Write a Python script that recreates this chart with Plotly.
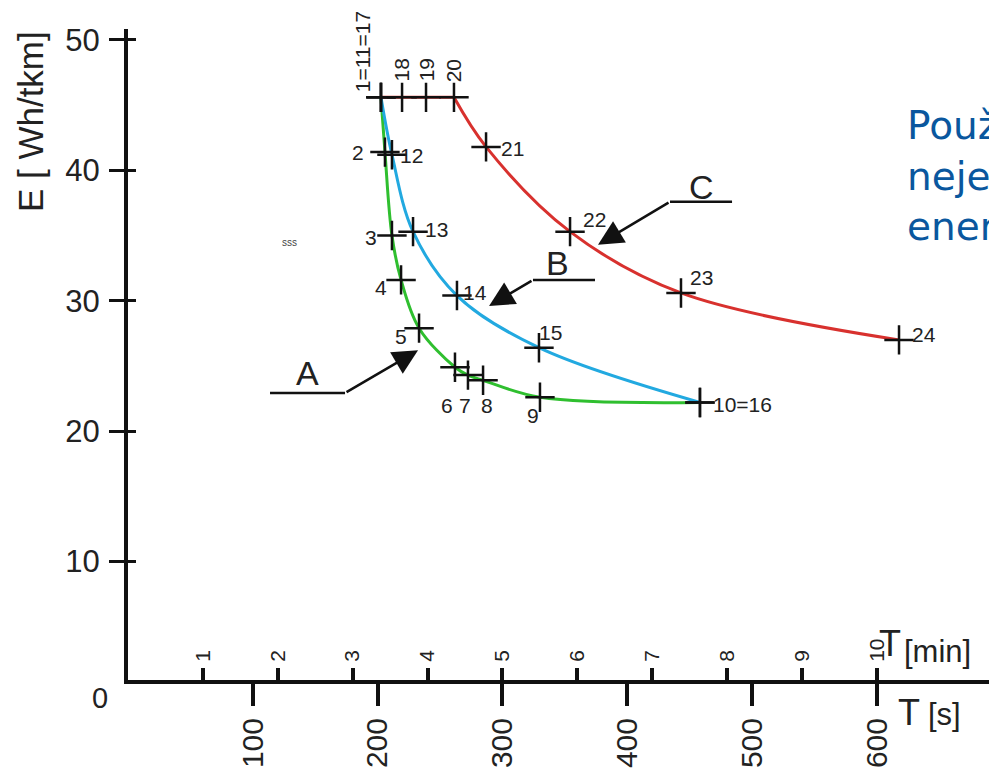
import plotly.graph_objects as go

# ---------------- data ----------------
# Curve A (green): points 1..10
T_A = [202.7, 205.9, 211.5, 218.8, 233.2, 262.0, 272.4, 284.5, 330.1, 458.3]
E_A = [45.6, 41.4, 35.0, 31.6, 27.9, 24.9, 24.3, 23.9, 22.6, 22.2]
LBL_A = ["1=11=17", "2", "3", "4", "5", "6", "7", "8", "9", "10=16"]

# Curve B (blue): points 11..16
T_B = [202.7, 211.5, 228.4, 263.6, 329.3, 458.3]
E_B = [45.6, 41.2, 35.3, 30.4, 26.4, 22.2]
LBL_B = ["", "12", "13", "14", "15", ""]

# Curve C (red): points 17..24
T_C = [202.7, 219.6, 238.8, 261.2, 286.9, 354.2, 443.1, 617.8]
E_C = [45.6, 45.6, 45.6, 45.6, 41.8, 35.3, 30.6, 27.0]
LBL_C = ["", "18", "19", "20", "21", "22", "23", "24"]
C_FLAT_END = 3  # index of point 20, where curve C leaves the constant level

T_S_TICKS = [100, 200, 300, 400, 500, 600]
T_MIN_TICKS = [1, 2, 3, 4, 5, 6, 7, 8, 9, 10]
E_TICKS = [10, 20, 30, 40, 50]
CURVE_NAMES = ["A", "B", "C"]

# ---------------- styles ----------------
FONT = "Liberation Sans, Arial, sans-serif"
TXT = "#222222"
GREEN = "#2fbf2f"
BLUE = "#22a9e0"
RED = "#d8312e"
X_MAX = 689.9
Y_MIN, Y_MAX = 0.92, 50.84

# label offsets (pixels) : label -> (xshift, yshift, angle)
OFFS = {
    "1=11=17": (-19, 46, -90), "18": (-1, 27, -90), "19": (0, 27, -90), "20": (-1, 27, -90),
    "21": (26, -2, 0), "22": (24, 12, 0), "23": (21, 15, 0), "24": (25, 5, 0),
    "2": (-27, 0, 0), "12": (20, -1, 0), "3": (-21, -2, 0), "13": (23, 2, 0),
    "4": (-20, -8, 0), "14": (18, 3, 0), "5": (-18, -8, 0), "6": (-8, -38, 0),
    "7": (-3, -30, 0), "8": (4, -25, 0), "9": (-7, -18, 0), "15": (12, 15, 0),
    "10=16": (43, -2, 0),
}

fig = go.Figure()

line_parts = [
    (T_A, E_A, GREEN, "spline"),
    (T_B, E_B, BLUE, "spline"),
    (T_C[:C_FLAT_END + 1], E_C[:C_FLAT_END + 1], RED, "linear"),
    (T_C[C_FLAT_END:], E_C[C_FLAT_END:], RED, "spline"),
]
for T, E, col, shp in line_parts:
    ln = dict(color=col, width=3, shape=shp)
    if shp == "spline":
        ln["smoothing"] = 1.0
    fig.add_trace(go.Scatter(x=T, y=E, mode="lines", line=ln,
                             hoverinfo="skip", showlegend=False))
for T, E in [(T_A, E_A), (T_B, E_B), (T_C, E_C)]:
    fig.add_trace(go.Scatter(x=T, y=E, mode="markers",
                             marker=dict(symbol="cross-thin", size=21,
                                         line=dict(color="#111111", width=2.5)),
                             hoverinfo="skip", showlegend=False))

# dummy trace to activate the secondary (minutes) axis
fig.add_trace(go.Scatter(x=[0, X_MAX / 60], y=[None, None], xaxis="x2", yaxis="y2",
                         mode="markers", showlegend=False, hoverinfo="skip"))

annotations = []
for T, E, L in [(T_A, E_A, LBL_A), (T_B, E_B, LBL_B), (T_C, E_C, LBL_C)]:
    for t, e, l in zip(T, E, L):
        if not l:
            continue
        dx, dy, ang = OFFS[l]
        annotations.append(dict(x=t, y=e, xref="x", yref="y", text=l, showarrow=False,
                                xanchor="center", yanchor="middle",
                                xshift=dx, yshift=dy, textangle=ang,
                                font=dict(family=FONT, size=21, color=TXT)))

# curve arrows A, B, C
arrows = {
    "A": dict(line=(113.8, 173.9, 22.93), tip=(232.4, 26.2), tail=(173.9, 22.93), lab=(144.2, 24.5)),
    "B": dict(line=(324.5, 374.2, 31.6), tip=(289.3, 29.6), tail=(324.5, 31.6), lab=(343.8, 32.9)),
    "C": dict(line=(434.3, 484.0, 37.6), tip=(376.6, 34.3), tail=(434.3, 37.6), lab=(459.9, 38.7)),
}
shapes = []
for name in CURVE_NAMES:
    a = arrows[name]
    x0, x1, yy = a["line"]
    shapes.append(dict(type="line", xref="x", yref="y", x0=x0, x1=x1, y0=yy, y1=yy,
                       line=dict(color="#111111", width=2.5)))
    annotations.append(dict(x=a["tip"][0], y=a["tip"][1], ax=a["tail"][0], ay=a["tail"][1],
                            xref="x", yref="y", axref="x", ayref="y", text="",
                            showarrow=True, arrowhead=2, arrowsize=2, arrowwidth=2.5,
                            arrowcolor="#111111"))
    annotations.append(dict(x=a["lab"][0], y=a["lab"][1], xref="x", yref="y", text=name,
                            xanchor="center", yanchor="middle",
                            showarrow=False, font=dict(family=FONT, size=34, color=TXT)))

# misc texts
annotations += [
    dict(x=0, y=0, xref="paper", yref="paper", text="0", showarrow=False,
         xanchor="center", yanchor="middle",
         xshift=-28, yshift=-18, font=dict(family=FONT, size=29, color=TXT)),
    dict(x=0, y=0.857, xref="paper", yref="paper", text="E [ Wh/tkm]", showarrow=False,
         xanchor="center", yanchor="middle",
         textangle=-90, xshift=-98, font=dict(family=FONT, size=35, color=TXT)),
    dict(x=129.8, y=34.5, xref="x", yref="y", text="sss", showarrow=False,
         xanchor="center", yanchor="middle",
         font=dict(family=FONT, size=10, color="#444444")),
    dict(x=1.0, y=0, xref="paper", yref="paper", text="Použ<br>neje<br>ener", showarrow=False,
         xanchor="left", yanchor="middle", align="left", xshift=-84, yshift=504,
         font=dict(family="DejaVu Sans, Verdana, sans-serif", size=39, color="#0a579e")),
    # axis unit labels at the right
    dict(x=1.0, y=0, xref="paper", yref="paper", text="T", showarrow=False, xanchor="center",
         yanchor="middle", xshift=-99, yshift=37, font=dict(family=FONT, size=36, color=TXT)),
    dict(x=1.0, y=0, xref="paper", yref="paper", text="[min]", showarrow=False, xanchor="left",
         yanchor="middle", xshift=-87, yshift=29, font=dict(family=FONT, size=31, color=TXT)),
    dict(x=1.0, y=0, xref="paper", yref="paper", text="T", showarrow=False, xanchor="center",
         yanchor="middle", xshift=-80, yshift=-32, font=dict(family=FONT, size=36, color=TXT)),
    dict(x=1.0, y=0, xref="paper", yref="paper", text="[s]", showarrow=False, xanchor="left",
         yanchor="middle", xshift=-63, yshift=-34, font=dict(family=FONT, size=31, color=TXT)),
]

fig.update_layout(
    width=989, height=770,
    margin=dict(l=128, r=0, t=29, b=90, autoexpand=False),
    plot_bgcolor="white", paper_bgcolor="white", showlegend=False,
    annotations=annotations, shapes=shapes,
    xaxis=dict(range=[0, X_MAX], tickvals=T_S_TICKS, ticktext=[str(v) for v in T_S_TICKS],
               tickangle=-90, ticks="outside", ticklen=22, tickwidth=4, tickcolor="#111111",
               showline=True, linewidth=4, linecolor="#111111", showgrid=False, zeroline=False,
               automargin=False, tickfont=dict(family=FONT, size=30, color=TXT)),
    xaxis2=dict(range=[0, X_MAX / 60], overlaying="x", anchor="y", side="bottom",
                tickvals=T_MIN_TICKS, ticktext=[str(v) for v in T_MIN_TICKS],
                tickangle=-90, ticks="inside", ticklen=12, tickwidth=4, tickcolor="#111111",
                ticklabelposition="inside", showline=False, showgrid=False, zeroline=False,
                automargin=False, tickfont=dict(family=FONT, size=21, color=TXT)),
    yaxis=dict(range=[Y_MIN, Y_MAX], tickvals=E_TICKS, ticktext=[str(v) for v in E_TICKS],
               ticks="outside", ticklen=15, tickwidth=3, tickcolor="#111111",
               showline=True, linewidth=4, linecolor="#111111", showgrid=False, zeroline=False,
               automargin=False, ticklabelstandoff=3,
               tickfont=dict(family=FONT, size=31, color=TXT)),
    yaxis2=dict(range=[Y_MIN, Y_MAX], overlaying="y", anchor="x", side="left",
                tickvals=E_TICKS, ticks="inside", ticklen=8, tickwidth=3, tickcolor="#111111",
                showticklabels=False, showline=False, showgrid=False, zeroline=False,
                automargin=False),
)

fig.write_html("out.html", config={"displayModeBar": False},
               post_script="document.body.style.margin='0';")
